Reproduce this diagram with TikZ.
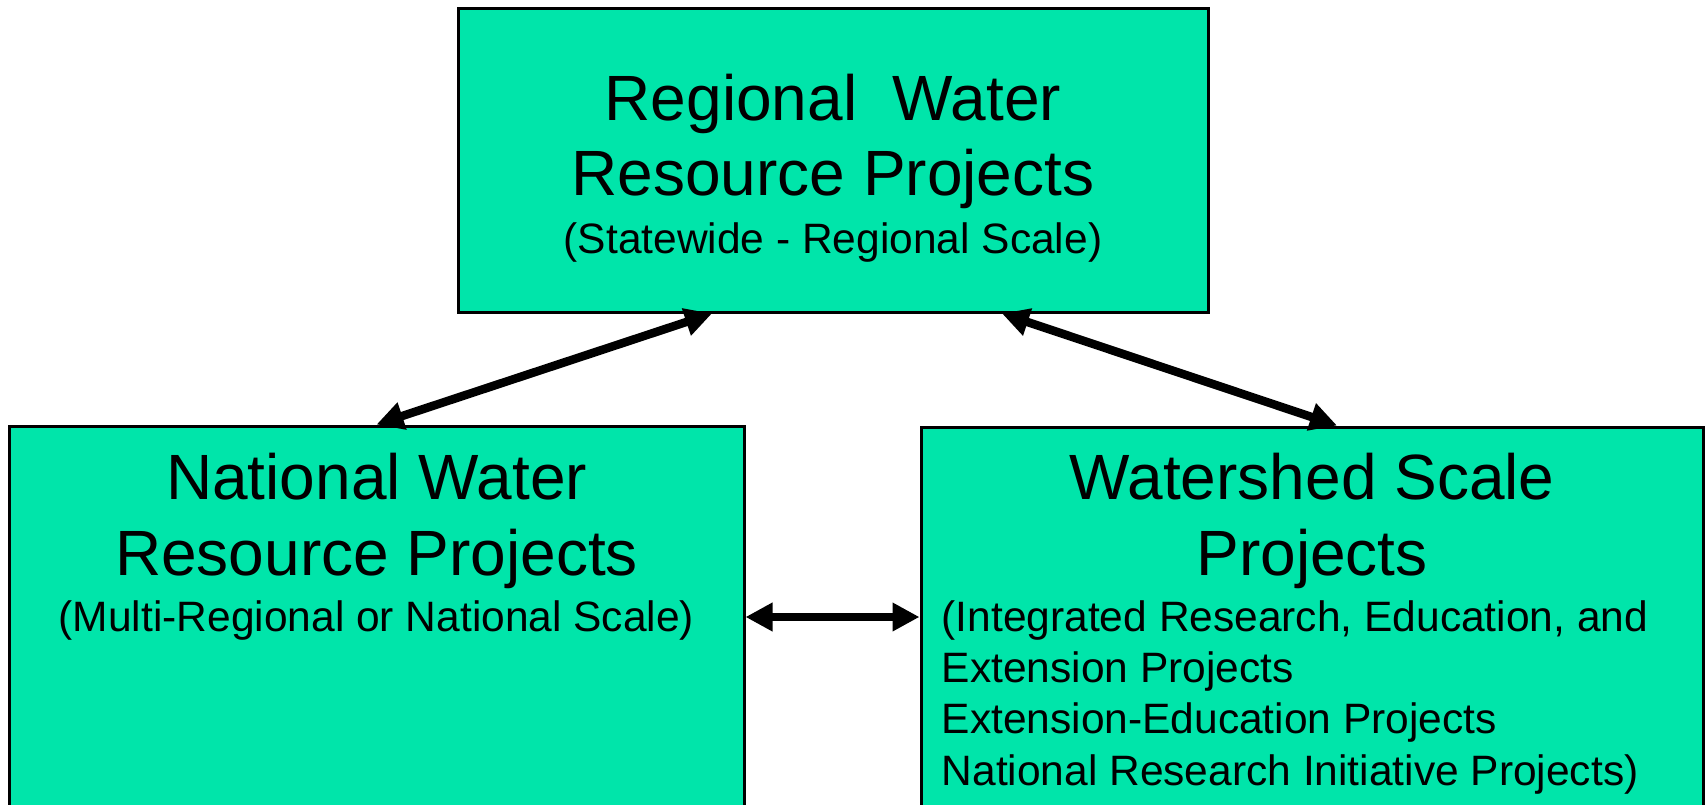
\documentclass[tikz,border=0pt]{standalone}
\usepackage{fontspec}
\setmainfont{Liberation Sans}
\usetikzlibrary{arrows.meta,positioning}
\definecolor{boxgreen}{RGB}{0,229,170}

\begin{document}
\begin{tikzpicture}[x=1pt,y=-1pt,
    panel/.style={draw,line width=3pt,fill=boxgreen,inner sep=0pt},
    heading/.style={font=\fontsize{64}{76}\selectfont,inner sep=0pt},
    subline/.style={font=\fontsize{42.5}{51}\selectfont,inner sep=0pt},
    link/.style={line width=8.5pt,{Triangle[length=27pt,width=27pt]}-{Triangle[length=27pt,width=27pt]}}]
 \useasboundingbox (0,0) rectangle (1705,805);
 \clip (0,0) rectangle (1705,805);
 % the three boxes
 \node[panel,minimum width=750pt,minimum height=303pt] (regional) at (833,160.5) {};
 \node[panel,minimum width=735pt,minimum height=382pt] (national) at (376.5,617) {};
 \node[panel,minimum width=782pt,minimum height=380pt] (watershed) at (1312,617) {};
 % titles
 \foreach \txt/\dy [count=\i] in {Regional\ \ Water/112.7,Resource Projects/188.3}
  \node[heading,anchor=base] (reg-\i) at ([yshift=-\dy pt]regional.north) {\txt};
 \node[subline,anchor=base] (reg-sub) at ([yshift=-246pt]regional.north) {(Statewide - Regional Scale)};
 \foreach \txt/\dy [count=\i] in {National Water/75,Resource Projects/150.7}
  \node[heading,anchor=base] (nat-\i) at ([yshift=-\dy pt]national.north) {\txt};
 \node[subline,anchor=base] (nat-sub) at ([yshift=-207.3pt]national.north) {(Multi-Regional or National Scale)};
 \foreach \txt/\dy [count=\i] in {Watershed Scale/74,Projects/149.7}
  \node[heading,anchor=base] (ws-\i) at ([yshift=-\dy pt]watershed.north) {\txt};
 % list under the watershed title
 \foreach \txt [count=\i] in {{(Integrated Research, Education, and},Extension Projects,
     Extension-Education Projects,National Research Initiative Projects)}
  \node[subline,anchor=base west] (ws-sub-\i) at ([xshift=22pt,yshift=-205.7pt-51.3pt*(\i-1)]watershed.north west) {\txt};
 % links
 \draw[link] ([xshift=-121pt]regional.south) -- (national.north);
 \draw[link] ([xshift=169pt]regional.south) -- ([xshift=25pt]watershed.north);
 \draw[link] (national.east) -- (watershed.west);
\end{tikzpicture}
\end{document}
